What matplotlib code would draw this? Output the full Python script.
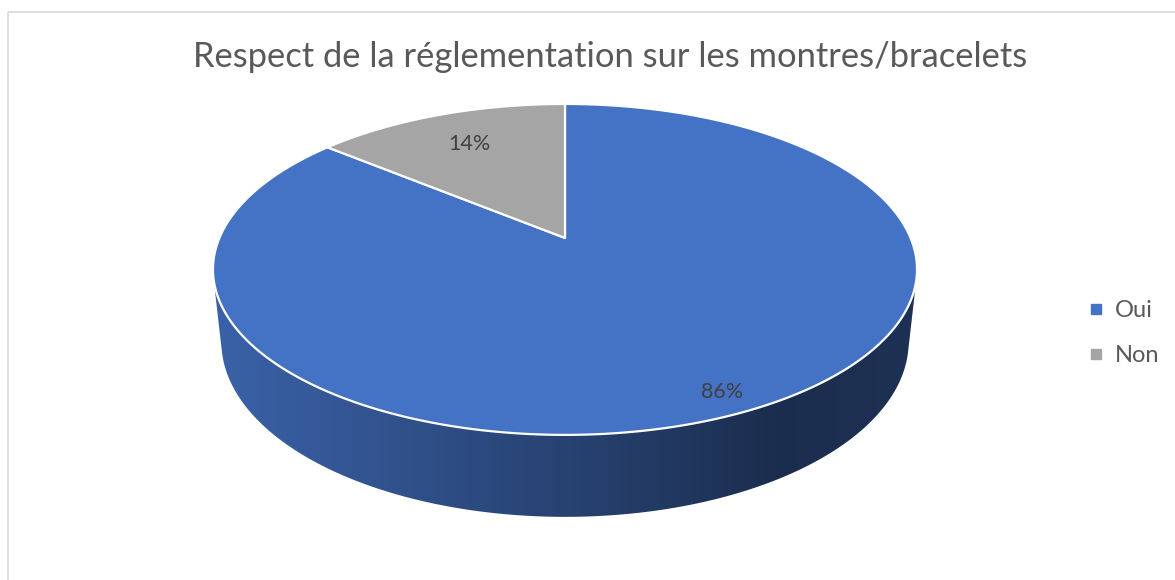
import numpy as np
import matplotlib
matplotlib.use("Agg")
import matplotlib.pyplot as plt
from matplotlib.patches import Polygon, Rectangle
from matplotlib.lines import Line2D

# ---- data ----
title = "Respect de la réglementation sur les montres/bracelets"
categories = ["Oui", "Non"]
values = [86, 14]
colors = ["#4472C4", "#A5A5A5"]
label_radius = [0.90, 0.73]   # label placement (fraction of radius)

# ---- figure / canvas in pixel-like units ----
W, H = 1175, 580
fig = plt.figure(figsize=(W / 100, H / 100), dpi=100)
ax = fig.add_axes([0, 0, 1, 1])
FONT = ["Lato", "DejaVu Sans"]

# chart border
ax.add_patch(Rectangle((8, 12), W + 20, H + 20, fill=False,
                       edgecolor="#D9D9D9", lw=1.2, zorder=0))

# ---- 3D projection (perspective) ----
CX, CY = 565.0, 238.0       # screen position of pie centre
S = 345.6                   # scale
sinA, cosA = 0.4615, 0.887  # tilt
D = 4.67                    # camera distance (radius units)
HGT = 0.238                 # thickness (radius units)


def project(x, d, z):
    depth = 1 + (d * cosA - z * sinA) / D
    X = CX + S * x / depth
    Y = CY - S * (d * sinA + z * cosA) / depth
    return X, Y


total = float(sum(values))
sin_vis = -1.0 / (D * cosA)

start = np.pi / 2
slices = []
for v, col in zip(values, colors):
    end = start - 2 * np.pi * v / total
    slices.append((start, end, col))
    start = end

# side walls: clipped horizontal gradient
for (a0, a1, col) in slices:
    rgb = np.array(matplotlib.colors.to_rgb(col))
    ph = np.linspace(a0, a1, 1500)
    ph = ph[np.sin(ph) < sin_vis]
    if len(ph) < 2:
        continue
    top = [project(np.cos(p), np.sin(p), 0) for p in ph]
    bot = [project(np.cos(p), np.sin(p), -HGT) for p in ph[::-1]]
    poly = Polygon(top + bot, closed=True, facecolor="none",
                   edgecolor="none", zorder=2)
    ax.add_patch(poly)
    xs = np.array([p[0] for p in top + bot])
    ys = np.array([p[1] for p in top + bot])
    x0, x1 = xs.min() - 2, xs.max() + 2
    y0, y1 = ys.min() - 2, ys.max() + 2
    gx = np.linspace(x0, x1, 600)
    rel = (gx - CX) / S
    f = np.interp(rel, [-1.02, 0.0, 0.62, 1.02], [0.86, 0.58, 0.40, 0.43])
    img = np.clip(rgb[None, None, :] * f[None, :, None], 0, 1)
    img = np.repeat(img, 2, axis=0)
    im = ax.imshow(img, extent=(x0, x1, y1, y0), aspect="auto",
                   interpolation="bilinear", zorder=2)
    im.set_clip_path(poly)

# top faces
for (a0, a1, col) in slices:
    ph = np.linspace(a0, a1, 400)
    pts = [project(0, 0, 0)] + [project(np.cos(p), np.sin(p), 0) for p in ph]
    ax.add_patch(Polygon(pts, closed=True, facecolor=col, edgecolor="white",
                         lw=1.6, joinstyle="round", zorder=3))

ax.set_xlim(0, W)
ax.set_ylim(H, 0)
ax.axis("off")

# data labels
for (a0, a1, col), v, r in zip(slices, values, label_radius):
    pm = 0.5 * (a0 + a1)
    X, Y = project(r * np.cos(pm), r * np.sin(pm), 0)
    ax.text(X, Y, f"{round(100 * v / total)}%", ha="center", va="center",
            fontsize=15.5, color="#404040", family=FONT, zorder=5)

# title
t = ax.text(610, 57, title, ha="center", va="center", fontsize=24,
            color="#595959", family=FONT, zorder=5)
fig.canvas.draw()
w = t.get_window_extent(fig.canvas.get_renderer()).width
t.set_fontsize(24 * 835 / w)

# legend
handles = [Line2D([0], [0], marker="s", linestyle="none", markersize=6.8,
                  markerfacecolor=c, markeredgecolor=c) for c in colors]
leg = ax.legend(handles, categories, loc="center left",
                bbox_to_anchor=(1088 / W, 1 - 333 / H), frameon=False,
                prop={"family": FONT, "size": 17}, labelspacing=1.0,
                handlelength=0.7, handletextpad=0.45, borderpad=0,
                borderaxespad=0)
for txt in leg.get_texts():
    txt.set_color("#595959")

fig.savefig("out.png", dpi=100)
